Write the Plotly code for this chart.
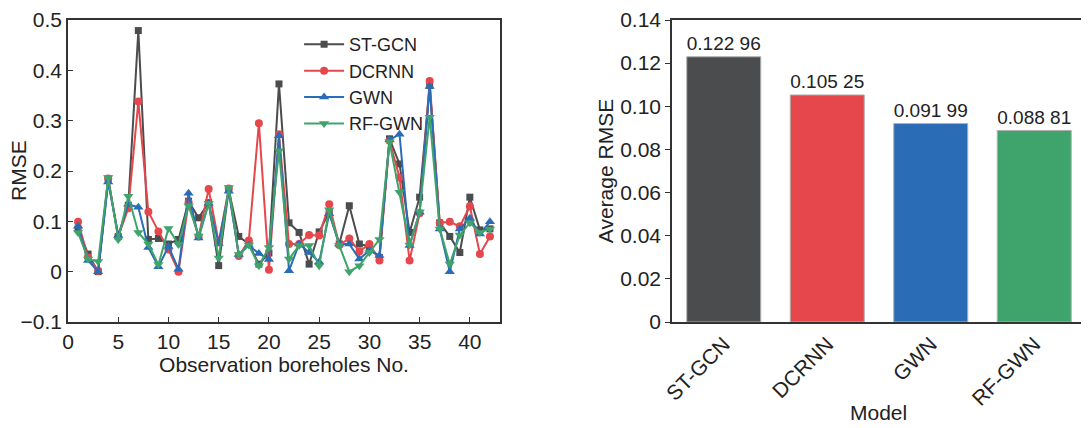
import plotly.graph_objects as go

boreholes = list(range(1, 43))
st_gcn = [0.085, 0.035, 0.0, 0.184, 0.07, 0.132, 0.479, 0.064, 0.066, 0.055,
          0.064, 0.14, 0.107, 0.137, 0.012, 0.163, 0.07, 0.055, 0.015, 0.037,
          0.373, 0.097, 0.078, 0.015, 0.079, 0.118, 0.055, 0.131, 0.055, 0.05,
          0.028, 0.264, 0.214, 0.078, 0.148, 0.37, 0.097, 0.07, 0.038, 0.148,
          0.083, 0.085]
dcrnn = [0.099, 0.028, 0.002, 0.185, 0.07, 0.126, 0.338, 0.119, 0.08, 0.044,
         0.0, 0.138, 0.07, 0.164, 0.058, 0.165, 0.031, 0.062, 0.295, 0.004,
         0.273, 0.055, 0.055, 0.073, 0.072, 0.134, 0.053, 0.066, 0.04, 0.055,
         0.022, 0.26, 0.187, 0.022, 0.116, 0.379, 0.097, 0.099, 0.09, 0.13,
         0.035, 0.07]
gwn = [0.09, 0.022, 0.0, 0.178, 0.072, 0.134, 0.128, 0.048, 0.01, 0.05,
       0.005, 0.156, 0.067, 0.136, 0.056, 0.16, 0.034, 0.052, 0.036, 0.024,
       0.27, 0.002, 0.055, 0.038, 0.019, 0.115, 0.055, 0.055, 0.025, 0.042,
       0.032, 0.262, 0.273, 0.052, 0.118, 0.368, 0.085, 0.0, 0.085, 0.106,
       0.075, 0.099]
rf_gwn = [0.078, 0.025, 0.02, 0.187, 0.064, 0.15, 0.078, 0.055, 0.014, 0.086,
          0.054, 0.131, 0.071, 0.136, 0.027, 0.167, 0.034, 0.053, 0.012, 0.048,
          0.24, 0.025, 0.052, 0.052, 0.012, 0.123, 0.052, 0.0, 0.012, 0.038,
          0.064, 0.258, 0.158, 0.053, 0.119, 0.307, 0.085, 0.015, 0.073, 0.097,
          0.078, 0.085]

models = ["ST-GCN", "DCRNN", "GWN", "RF-GWN"]
avg_rmse = [0.12296, 0.10525, 0.09199, 0.08881]
left_xticks = [0, 5, 10, 15, 20, 25, 30, 35, 40]
right_ticks = [0, 0.02, 0.04, 0.06, 0.08, 0.10, 0.12, 0.14]
right_ticktext = ["0", "0.02", "0.04", "0.06", "0.08", "0.10", "0.12", "0.14"]

colors = ["#4b4c4e", "#e5474c", "#2a6db6", "#3fa46c"]
symbols = ["square", "circle", "triangle-up", "triangle-down"]
sizes = [7, 8, 9, 9]
FONT = "Liberation Sans, Arial, sans-serif"
FS = 21

# page body has an 8px margin, so the figure is 8px smaller than the window
W, H = 1081, 420
ML, MR, MT, MB = 60, 3, 12, 106
PW = W - ML - MR
PH = H - MT - MB


def fmt(v):
    s = f"{v:.5f}"
    return s[:5] + " " + s[5:]


fig = go.Figure()
for name, ys, c, sym, sz in zip(models, [st_gcn, dcrnn, gwn, rf_gwn], colors, symbols, sizes):
    fig.add_trace(go.Scatter(
        x=boreholes, y=ys, name=name, mode="lines+markers",
        line=dict(color=c, width=2),
        marker=dict(symbol=sym, size=sz, color=c),
        xaxis="x", yaxis="y",
    ))

fig.add_trace(go.Bar(
    x=models, y=avg_rmse, marker=dict(color=colors, line=dict(color="#b0b0b0", width=1)),
    text=[fmt(v) for v in avg_rmse], textposition="outside",
    textfont=dict(size=21, color="#222"), cliponaxis=False,
    width=0.715, showlegend=False, xaxis="x2", yaxis="y2",
))

axis_common = dict(showline=True, linecolor="#333", linewidth=1.5, mirror=True,
                   showgrid=False, zeroline=False, automargin=False,
                   tickfont=dict(size=FS, color="#222"), tickcolor="#333")

left_dom = [0, 432 / PW]
right_dom = [(672 - 8 - ML) / PW, 1]

fig.update_layout(
    width=W, height=H,
    margin=dict(l=ML, r=MR, t=MT, b=MB),
    paper_bgcolor="white", plot_bgcolor="white",
    font=dict(family=FONT, size=FS, color="#222"),
    xaxis=dict(domain=left_dom, range=[0, 43], tickvals=left_xticks,
               ticks="inside", ticklen=5,
               title=dict(text="Observation boreholes No.", font=dict(size=FS), standoff=0),
               **axis_common),
    yaxis=dict(range=[-0.1, 0.5], dtick=0.1, ticks="inside", ticklen=5,
               **axis_common),
    xaxis2=dict(domain=right_dom, anchor="y2", ticks="", tickangle=-45,
                **axis_common),
    yaxis2=dict(anchor="x2", range=[0, 0.14], tickvals=right_ticks, ticktext=right_ticktext,
                ticks="outside", ticklen=5,
                title=dict(text="Average RMSE", font=dict(size=FS), standoff=1),
                **axis_common),
    legend=dict(x=0.227, y=0.98, xanchor="left", yanchor="top",
                font=dict(size=18, color="#222"), bgcolor="rgba(0,0,0,0)",
                itemwidth=40, tracegroupgap=0),
    bargap=0.285,
    annotations=[
        dict(text="RMSE", textangle=-90, xref="paper", yref="paper",
             x=(18 - 8 - ML) / PW, y=0.5, xanchor="center", yanchor="middle",
             showarrow=False, font=dict(size=FS, color="#222")),
        dict(text="Model", xref="paper", yref="paper",
             x=(right_dom[0] + right_dom[1]) / 2, y=-(413 - 8 - MT - PH) / PH,
             xanchor="center", yanchor="middle",
             showarrow=False, font=dict(size=FS, color="#222")),
    ],
)

fig.write_html("out.html")
